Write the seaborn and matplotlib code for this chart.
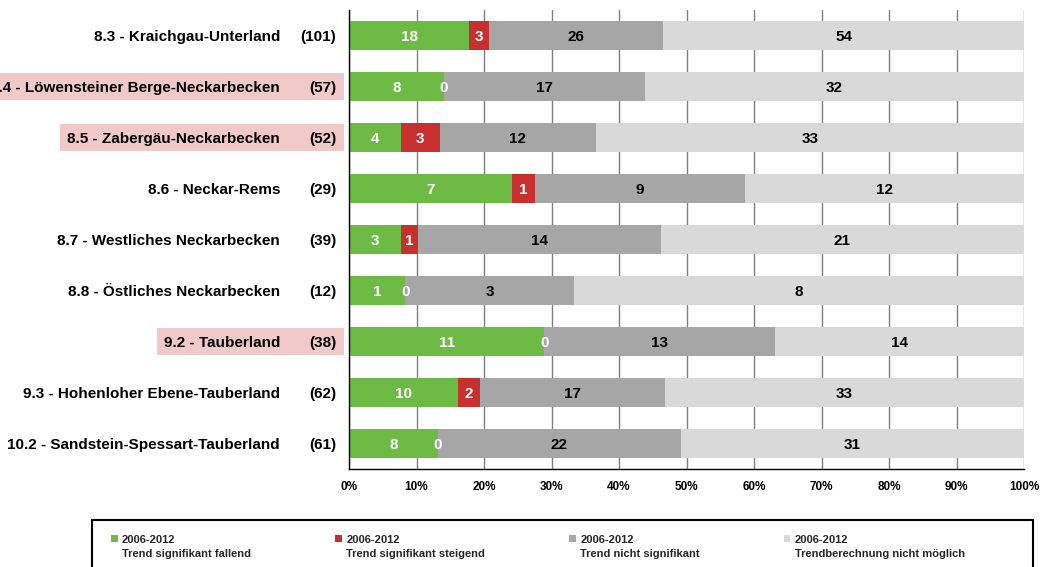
import numpy as np
import pandas as pd
import matplotlib
matplotlib.use("Agg")
import matplotlib.pyplot as plt
import matplotlib.transforms as mtransforms
from matplotlib.patches import Patch, Rectangle
from matplotlib.legend_handler import HandlerPatch
import seaborn as sns

# ---------------- data ----------------
regions = [
    "8.3 - Kraichgau-Unterland",
    "8.4 - Löwensteiner Berge-Neckarbecken",
    "8.5 - Zabergäu-Neckarbecken",
    "8.6 - Neckar-Rems",
    "8.7 - Westliches Neckarbecken",
    "8.8 - Östliches Neckarbecken",
    "9.2 - Tauberland",
    "9.3 - Hohenloher Ebene-Tauberland",
    "10.2 - Sandstein-Spessart-Tauberland",
]
counts = [101, 57, 52, 29, 39, 12, 38, 62, 61]
fallend = [18, 8, 4, 7, 3, 1, 11, 10, 8]
steigend = [3, 0, 3, 1, 1, 0, 0, 2, 0]
nicht_signifikant = [26, 17, 12, 9, 14, 3, 13, 17, 22]
nicht_moeglich = [54, 32, 33, 12, 21, 8, 14, 33, 31]
highlighted = [False, True, True, False, False, False, True, False, False]
series_labels = [
    "2006-2012\nTrend signifikant fallend",
    "2006-2012\nTrend signifikant steigend",
    "2006-2012\nTrend nicht signifikant",
    "2006-2012\nTrendberechnung nicht möglich",
]
xtick_values = list(range(0, 101, 10))

colors = ["#6DBB45", "#C8302F", "#A6A6A6", "#D9D9D9"]
text_colors = ["white", "white", "black", "black"]

# ---------------- figure ----------------
sns.set_theme(style="white")
plt.rcParams["font.family"] = ["Liberation Sans", "DejaVu Sans"]

W, H = 1045, 567
fig = plt.figure(figsize=(W / 100, H / 100), dpi=100)
ax = fig.add_axes([349 / W, 1 - 469 / H, 675 / W, (469 - 10) / H])

series = [fallend, steigend, nicht_signifikant, nicht_moeglich]
df = pd.DataFrame({"region": regions, "count": counts})
totals = np.array([sum(v) for v in zip(*series)], dtype=float)
pct = [np.array(s) / totals * 100 for s in series]
cum = np.cumsum(pct, axis=0)
for k in range(4):
    df[f"cum{k}"] = cum[k]

# stacked bars: draw from the outermost cumulative value inward
for k in reversed(range(4)):
    sns.barplot(data=df, x=f"cum{k}", y="region", orient="h", color=colors[k],
                saturation=1, width=0.57, linewidth=0, ax=ax)

# segment labels
for i in range(len(regions)):
    left = 0.0
    for k in range(4):
        val = series[k][i]
        w = pct[k][i]
        xc = left + w / 2 if val != 0 else left
        ax.text(xc, i, str(val), ha="center", va="center_baseline", fontsize=11,
                fontweight="bold", color=text_colors[k], zorder=5)
        left += w

# axes styling
ax.set_xlim(0, 100)
ax.set_ylim(len(regions) - 0.5, -0.5)
ax.set_xticks(xtick_values)
ax.set_xticklabels([f"{v}%" for v in xtick_values], fontsize=8.5, fontweight="bold")
ax.set_yticks(np.arange(-0.5, len(regions), 1.0))
ax.set_yticklabels([])
ax.set_xlabel("")
ax.set_ylabel("")
ax.set_axisbelow(True)
ax.xaxis.grid(True, color="#7F7F7F", linewidth=1.0)
ax.yaxis.grid(False)
for s in ["top", "right"]:
    ax.spines[s].set_visible(False)
for s in ["left", "bottom"]:
    ax.spines[s].set_color("black")
    ax.spines[s].set_linewidth(1.0)
ax.tick_params(axis="x", direction="out", length=5, width=1, color="black", pad=4,
               labelcolor="black")
ax.tick_params(axis="y", direction="out", length=6, width=1, color="black")

# category labels with counts
trans = mtransforms.blended_transform_factory(fig.transFigure, ax.transData)
label_texts = []
for i, (r, c) in enumerate(zip(regions, counts)):
    t = ax.text(280 / W, i, r, transform=trans, ha="right", va="center_baseline",
                fontsize=11, fontweight="bold", color="black", clip_on=False)
    ax.text(336 / W, i, f"({c})", transform=trans, ha="right", va="center_baseline",
            fontsize=11, fontweight="bold", color="black", clip_on=False)
    label_texts.append(t)

# highlight boxes behind some labels
fig.canvas.draw()
renderer = fig.canvas.get_renderer()
for i, t in enumerate(label_texts):
    if not highlighted[i]:
        continue
    bb = t.get_window_extent(renderer)
    yc = ax.transData.transform((0, i))[1]
    x0 = bb.x0 - 7
    rect = Rectangle((x0, yc - 13.5), 344 - x0, 27, transform=mtransforms.IdentityTransform(),
                     facecolor="#F2C9C9", edgecolor="none", zorder=-1)
    fig.add_artist(rect)

# legend frame
frame = Rectangle((92 / W, -0.02), (1033 - 92) / W, 1 - 520 / H + 0.02, transform=fig.transFigure,
                  facecolor="white", edgecolor="black", linewidth=1.5, zorder=-2)
fig.add_artist(frame)


def top_square(legend, orig_handle, xdescent, ydescent, width, height, fontsize):
    shift = 0.5 * 1.45 * fontsize
    return Rectangle((-xdescent, -ydescent + shift), width, height)


handles = [Patch(facecolor=c, edgecolor="none", label=l) for c, l in zip(colors, series_labels)]
leg = fig.legend(handles=handles, loc="upper left", ncol=4, mode="expand",
                 bbox_to_anchor=(111 / W, 0, (965 - 111) / W, 1 - 535 / H),
                 frameon=False, borderpad=0, borderaxespad=0,
                 handlelength=0.6, handleheight=0.6, handletextpad=0.4,
                 handler_map={Patch: HandlerPatch(patch_func=top_square)},
                 prop={"size": 8, "weight": "bold"})
for t in leg.get_texts():
    t.set_linespacing(1.45)

fig.savefig("out.png", dpi=100)
